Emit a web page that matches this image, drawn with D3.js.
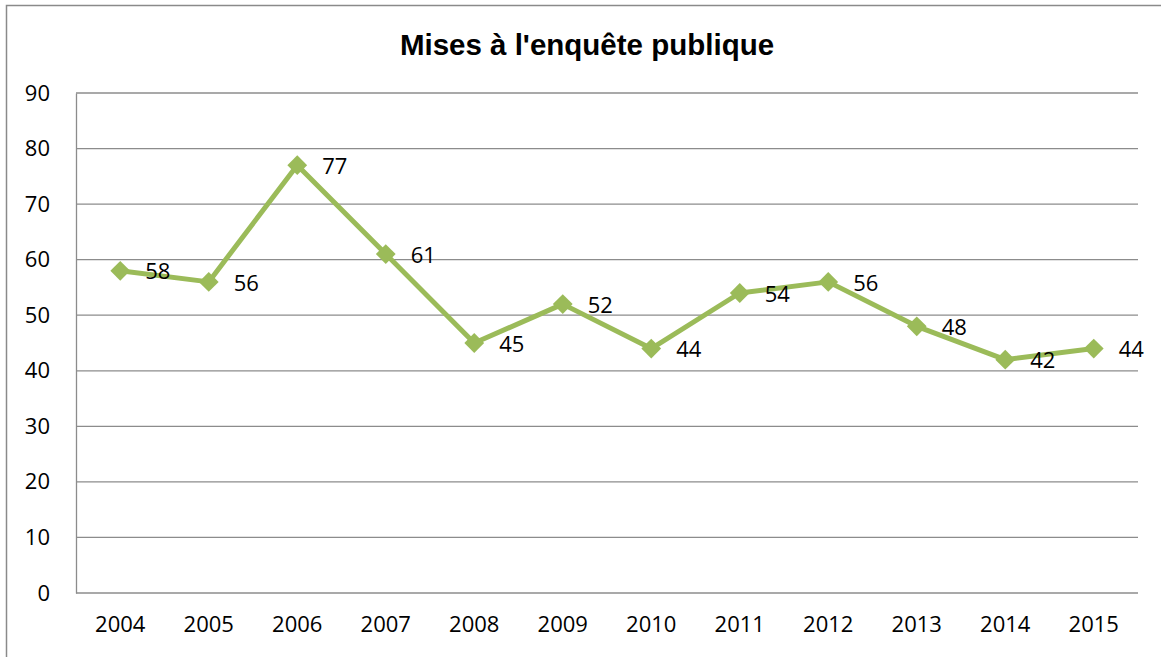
<html>
<head>
<script src="https://cdn.jsdelivr.net/npm/d3@7"></script>
<style>
  body { margin: 0; background: #fff; }
  text { font-family: "Open Sans", "Noto Sans", sans-serif; }
</style>
</head>
<body>
<div id="chart"></div>
<script type="text/javascript">

// data
const years = ["2004","2005","2006","2007","2008","2009","2010","2011","2012","2013","2014","2015"];
const counts = [58, 56, 77, 61, 45, 52, 44, 54, 56, 48, 42, 44];
const yTicks = [0, 10, 20, 30, 40, 50, 60, 70, 80, 90];
const title = "Mises à l'enquête publique";

const W = 1161, H = 657;
const svg = d3.select("#chart").append("svg")
    .attr("width", W)
    .attr("height", H);

// outer frame (right and bottom edges run off the picture)
svg.append("rect")
    .attr("x", 6.5).attr("y", 5.5)
    .attr("width", 1160).attr("height", 670)
    .attr("fill", "#fff")
    .attr("stroke", "#8a8a8a")
    .attr("stroke-width", 1.5)

svg.append("text")
    .attr("x", 587).attr("y", 55)
    .attr("text-anchor", "middle")
    .style("font-family", "'Liberation Sans', Arial, sans-serif")
    .style("font-weight", "bold")
    .style("font-size", "29.5px")
    .text(title)

const plotL = 76, plotR = 1138, plotT = 93, plotB = 593;

const x = d3.scaleBand().domain(years).range([plotL, plotR]);
const y = d3.scaleLinear().domain([0, 90]).range([plotB, plotT]);

// gridlines
svg.append("g")
    .selectAll("line")
    .data(yTicks)
    .enter()
    .append("line")
    .attr("x1", plotL).attr("x2", plotR)
    .attr("y1", d => y(d)).attr("y2", d => y(d))
    .attr("stroke", "#8c8c8c")
    .attr("stroke-width", 1.3)

// y axis
const yAxis = d3.axisLeft(y).tickValues(yTicks).tickSize(0).tickPadding(26);
const gy = svg.append("g").attr("transform", `translate(${plotL},0)`).call(yAxis);
gy.select(".domain").attr("stroke", "#8c8c8c").attr("stroke-width", 1.3);
gy.selectAll("text").style("font-size", "22px").attr("fill", "#000")
    .style("font-family", "'Open Sans', sans-serif");

// x axis
const xAxis = d3.axisBottom(x).tickSize(0).tickPadding(23);
const gx = svg.append("g").attr("transform", `translate(0,${plotB})`).call(xAxis);
gx.select(".domain").remove();
gx.selectAll("text").style("font-size", "22px").attr("fill", "#000")
    .style("font-family", "'Open Sans', sans-serif");

const cx = (d, i) => x(years[i]) + x.bandwidth() / 2;

// line
const line = d3.line()
    .x((d, i) => cx(d, i))
    .y(d => y(d));

svg.append("path")
    .datum(counts)
    .attr("d", line)
    .attr("fill", "none")
    .attr("stroke", "#9bbb59")
    .attr("stroke-width", 5)
    .attr("stroke-linejoin", "round")

// diamond markers
svg.append("g")
    .selectAll("path")
    .data(counts)
    .enter()
    .append("path")
    .attr("d", d3.symbol().type(d3.symbolDiamond2).size(250))
    .attr("transform", (d, i) => `translate(${cx(d, i)},${y(d)})`)
    .attr("fill", "#9bbb59")

// value labels
svg.append("g")
    .selectAll("text")
    .data(counts)
    .enter()
    .append("text")
    .attr("x", (d, i) => cx(d, i) + 25)
    .attr("y", d => y(d) + 1)
    .attr("dy", "0.35em")
    .style("font-size", "22px")
    .style("font-family", "'Open Sans', sans-serif")
    .text(d => d)

</script>
</body>
</html>
